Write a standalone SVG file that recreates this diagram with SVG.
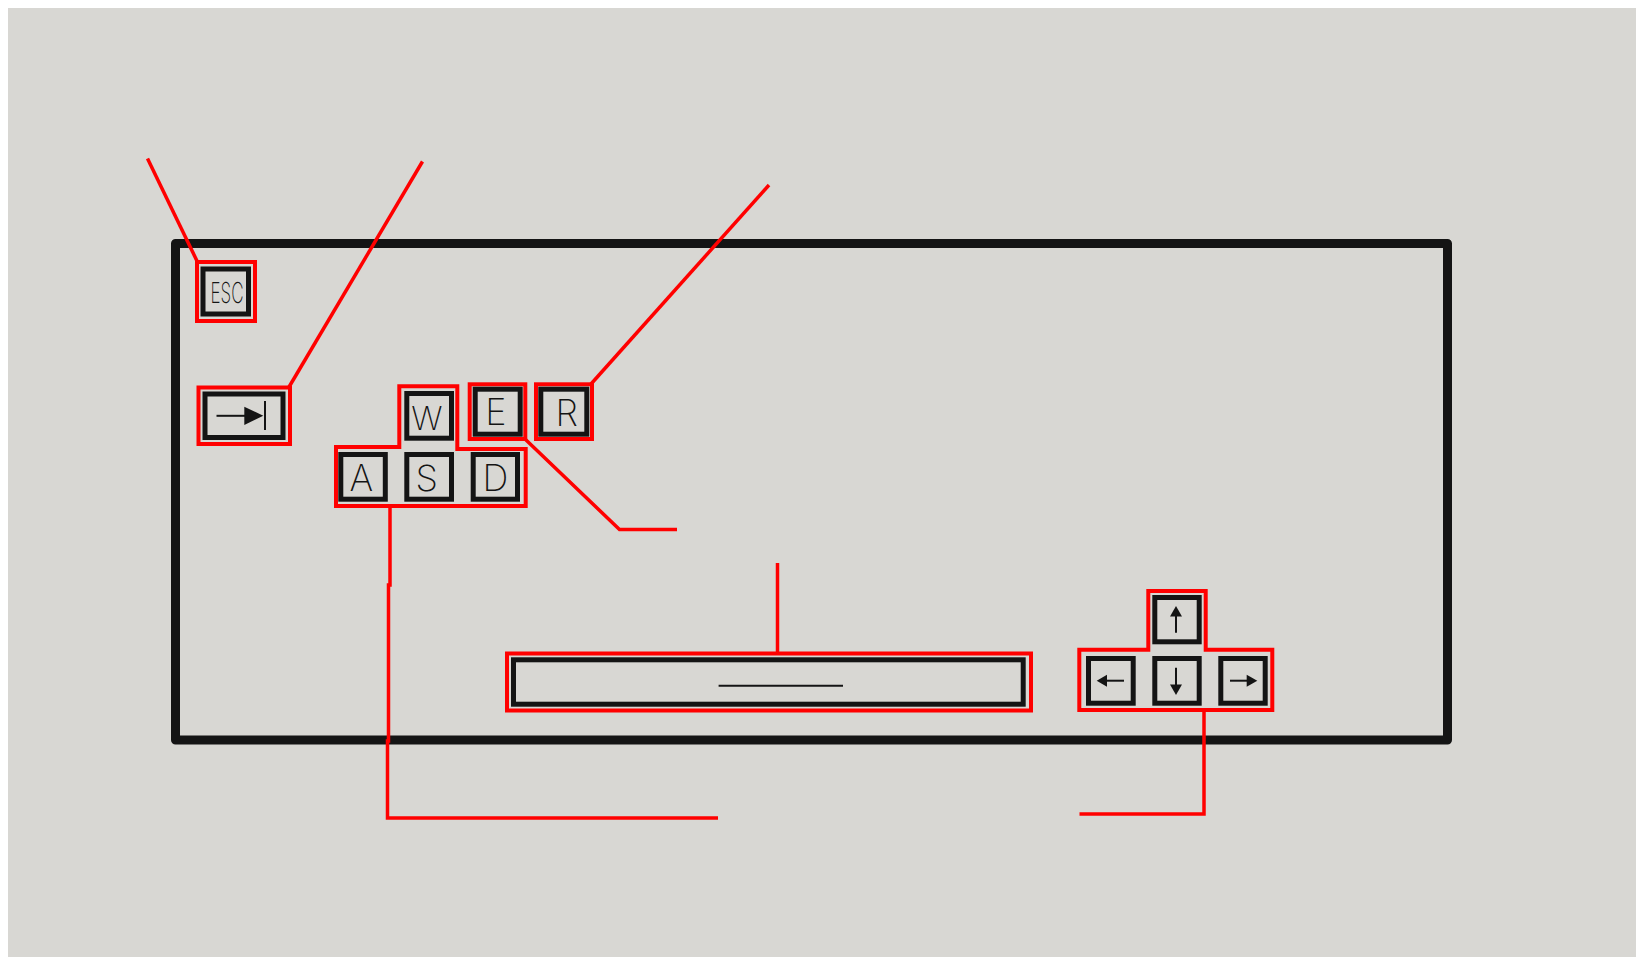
<svg xmlns="http://www.w3.org/2000/svg" width="1642" height="962" viewBox="0 0 1642 962">
<style>
.key{fill:none;stroke:#141414;stroke-width:5}
.sel{fill:none;stroke:#ff0000;stroke-width:4;stroke-linejoin:miter}
.conn{fill:none;stroke:#ff0000;stroke-width:3.5;stroke-linejoin:miter}
.lbl{font-family:Inter,"DejaVu Sans","Liberation Sans",sans-serif;font-weight:200;fill:#141414;text-anchor:middle}
.glyph{stroke:#141414;stroke-width:2;fill:none}
.head{fill:#141414;stroke:none}
</style>
<rect x="0" y="0" width="1642" height="962" fill="#ffffff"/>
<rect x="8" y="8" width="1628" height="949" fill="#d8d7d3"/>
<g id="frame">
<rect x="175.5" y="243.5" width="1272" height="496.5" fill="none" stroke="#141414" stroke-width="9" stroke-linejoin="round"/>
</g>
<g id="connectors">
<path class="conn" d="M147.5 158.5 L197 261"/>
<path class="conn" d="M422.5 161.5 L289 387"/>
<path class="conn" d="M591 384 L769 185"/>
<path class="conn" d="M525 439 L619.5 529.5 L677 529.5"/>
<path class="conn" d="M390 506 L390 585 L388.5 585 L388.5 741 L387.5 741 L387.5 818 L718 818"/>
<path class="conn" d="M777.5 563 L777.5 653.5"/>
<path class="conn" d="M1204 710 L1204 814 L1079.5 814"/>
</g>
<g id="esc">
<rect class="sel" x="197" y="262" width="58" height="59"/>
<rect class="key" x="203" y="269" width="45.5" height="45"/>
<text class="lbl" x="227" y="302.5" font-size="29" textLength="33" lengthAdjust="spacingAndGlyphs">ESC</text>
</g>
<g id="tab">
<rect class="sel" x="198.5" y="387.5" width="91.5" height="56.5"/>
<rect class="key" x="205" y="394" width="78" height="43.5" stroke-width="6"/>
<line class="glyph" x1="216.5" y1="415.8" x2="246" y2="415.8"/>
<polygon class="head" points="244.3,406.7 263.3,415.8 244.3,425"/>
<line class="glyph" x1="265" y1="401" x2="265" y2="430"/>
</g>
<g id="wasd">
<polygon class="sel" points="336,506 336,447 399.3,447 399.3,386.3 457.3,386.3 457.3,449 525.7,449 525.7,506"/>
<rect class="key" x="406.8" y="393.5" width="44.7" height="44.7"/>
<text class="lbl" x="427" y="429.5" font-size="33">W</text>
<rect class="key" x="340.8" y="454.5" width="44.5" height="44.7"/>
<text class="lbl" x="361.3" y="490.7" font-size="36">A</text>
<rect class="key" x="406.8" y="454.5" width="44.7" height="44.7"/>
<text class="lbl" x="426.7" y="490.7" font-size="36">S</text>
<rect class="key" x="473.2" y="454.5" width="44.3" height="44.7"/>
<text class="lbl" x="495.3" y="490.7" font-size="36">D</text>
</g>
<g id="e">
<rect class="sel" x="469.7" y="384.3" width="55.6" height="54.7"/>
<rect class="key" x="475.2" y="389.2" width="45" height="45"/>
<text class="lbl" x="495.8" y="425" font-size="36">E</text>
</g>
<g id="r">
<rect class="sel" x="536" y="384.3" width="56" height="54.7"/>
<rect class="key" x="540.8" y="389.2" width="46" height="45"/>
<text class="lbl" x="566.7" y="425.7" font-size="36">R</text>
</g>
<g id="space">
<rect class="sel" x="507" y="653.5" width="524" height="57"/>
<rect class="key" x="513.5" y="659.8" width="509.7" height="44.4"/>
<line class="glyph" x1="718.6" y1="685.8" x2="843" y2="685.8"/>
</g>
<g id="arrows">
<polygon class="sel" points="1079.3,710 1079.3,649.7 1148.3,649.7 1148.3,591 1205.7,591 1205.7,649.7 1272.3,649.7 1272.3,710"/>
<rect class="key" x="1154.8" y="597.5" width="44.4" height="44.3"/>
<line class="glyph" x1="1176" y1="632.7" x2="1176" y2="614"/>
<polygon class="head" points="1176,606 1182,616.5 1170,616.5"/>
<rect class="key" x="1088.5" y="658.5" width="44.7" height="44.7"/>
<line class="glyph" x1="1124" y1="680.7" x2="1105" y2="680.7"/>
<polygon class="head" points="1096.7,680.7 1107,674.7 1107,686.7"/>
<rect class="key" x="1154.8" y="658.5" width="44.4" height="44.7"/>
<line class="glyph" x1="1176" y1="667.7" x2="1176" y2="687"/>
<polygon class="head" points="1176,695 1182,684.5 1170,684.5"/>
<rect class="key" x="1220.8" y="658.5" width="44.4" height="44.7"/>
<line class="glyph" x1="1230" y1="680.7" x2="1249" y2="680.7"/>
<polygon class="head" points="1257.3,680.7 1246.7,674.7 1246.7,686.7"/>
</g>
</svg>
